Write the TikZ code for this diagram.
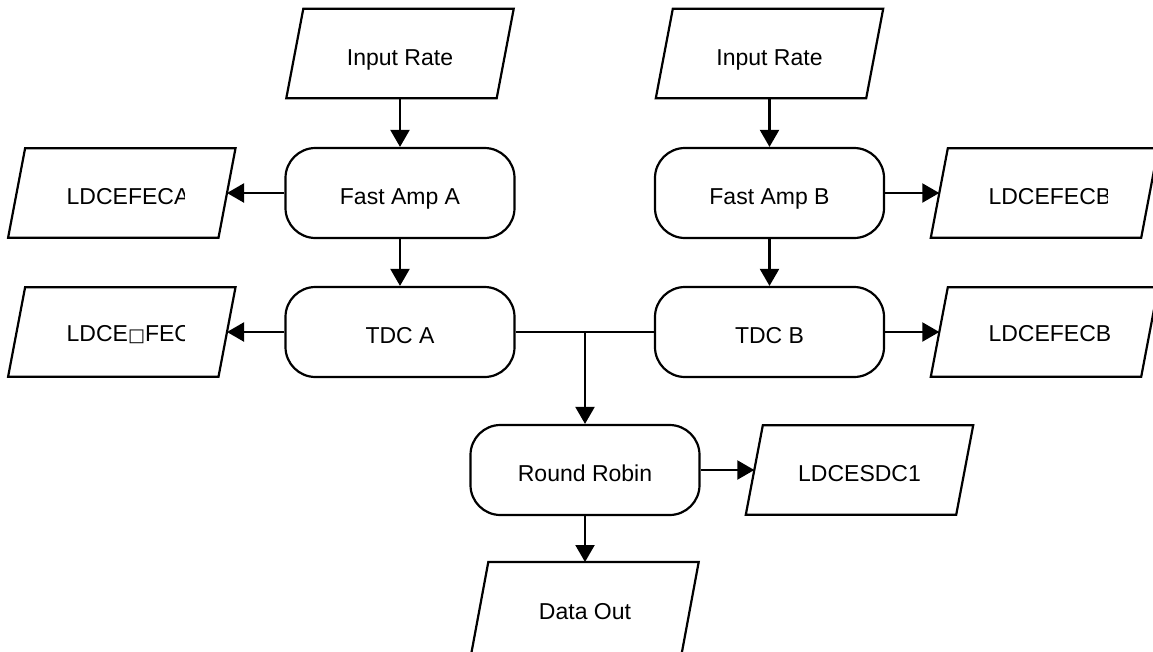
\documentclass[tikz,border=0pt]{standalone}
\usepackage{fontspec}
\setmainfont{Liberation Sans}
\newfontfamily\dejavu{DejaVu Sans}
\usetikzlibrary{arrows.meta}
\newcommand\drawpara[1]{\draw[line] ([xshift=8.5pt]#1.north west) -- ([xshift=8.5pt]#1.north east) -- ([xshift=-8.5pt]#1.south east) -- ([xshift=-8.5pt]#1.south west) -- cycle;}
\begin{document}
\begin{tikzpicture}[x=1pt,y=-1pt,
  every node/.style={font=\fontsize{23}{27}\selectfont, inner sep=0pt, text height=23pt, text depth=0pt},
  line/.style={line width=2.2pt, line join=miter},
  conn/.style={line width=2.2pt},
  arr/.style={conn, -{Triangle[length=17pt,width=19pt]}},
  rbox/.style={draw, line width=2.2pt, rounded corners=30pt, minimum width=229pt, minimum height=90pt, fill=white},
  pbox/.style={minimum width=210pt, minimum height=89pt},
  lbl/.style={anchor=base west, text height=, text depth=}
]
\fill[white] (0,0) rectangle (1153,651);
\useasboundingbox (0,0) rectangle (1153,651);

% process boxes
\node[rbox] (fA) at (400,193) {Fast Amp A};
\node[rbox] (fB) at (769.5,193) {Fast Amp B};
\node[rbox] (tA) at (400,332) {TDC A};
\node[rbox] (tB) at (769.5,332) {TDC B};
\node[rbox] (rr) at (585,470) {Round Robin};

% data boxes
\node[pbox] (inA) at (400,53.5) {Input Rate};
\node[pbox] (inB) at (769.5,53.5) {Input Rate};
\node[pbox] (lA) at (121.8,193) {};
\node[pbox] (lTA) at (121.8,332) {};
\node[pbox] (rB1) at (1044.5,193) {};
\node[pbox] (rB2) at (1044.5,332) {};
\node[pbox] (sdc) at (859.5,470) {LDCESDC1};
\node[pbox, minimum height=91pt] (out) at (585,607.7) {Data Out};
\drawpara{inA}
\drawpara{inB}
\drawpara{lA}
\drawpara{lTA}
\drawpara{rB1}
\drawpara{rB2}
\drawpara{sdc}
\drawpara{out}

% clipped labels
\begin{scope}
  \clip (0,0) rectangle (184,651);
  \node[lbl] (tlA) at (66.5,204) {LDCEFECA};
  \node[lbl] (tlTA) at (66.5,341.7) {LDCE{\dejavu\fontsize{18}{18}\selectfont □}FEC};
\end{scope}
\begin{scope}
  \clip (900,0) rectangle (1107,260);
  \node[lbl] (trB1) at (988.3,204) {LDCEFECB};
\end{scope}
\node[lbl] (trB2) at (988.3,341.7) {LDCEFECB};

% connectors
\draw[arr] (inA.south) -- (fA.north);
\draw[arr] (inB.south) -- (fB.north);
\draw[arr] (fA.south) -- (tA.north);
\draw[arr] (fB.south) -- (tB.north);
\draw[arr] (fA.west) -- (lA.east);
\draw[arr] (tA.west) -- (lTA.east);
\draw[arr] (fB.east) -- (rB1.west);
\draw[arr] (tB.east) -- (rB2.west);
\draw[conn] (tA.east) -- (tB.west);
\coordinate (j) at (tA.east -| rr.north);
\draw[arr] (j) -- (rr.north);
\draw[arr] (rr.east) -- (sdc.west);
\draw[arr] (rr.south) -- (out.north);
\end{tikzpicture}
\end{document}
